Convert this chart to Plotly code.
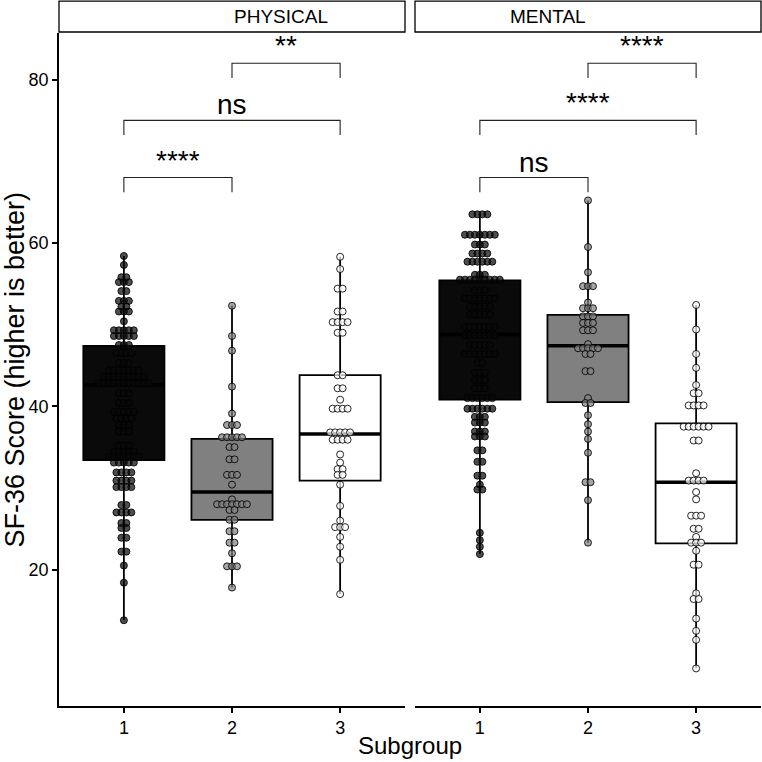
import plotly.graph_objects as go

# dot levels (score) and how many dots sit at each level
phys1_levels = [58.4, 57.3, 55.8, 55.2, 54.1, 52.9, 52.2, 51.6, 50.4, 49.3, 48.6, 47.5, 46.5,
                45.3, 44.4, 43.6, 42.8, 41.6, 40.4, 39.3, 38.5, 37.7, 36.9, 35.2, 34.4, 33.8,
                33.1, 31.9, 30.9, 30.1, 27.9, 27.0, 25.7, 25.1, 23.9, 22.2, 20.5, 18.4, 13.8]
phys1_counts = [1, 1, 2, 3, 2, 3, 2, 3, 1, 5, 5, 3, 4,
                3, 7, 9, 11, 3, 3, 5, 4, 3, 3, 3, 5, 7,
                5, 4, 4, 4, 2, 4, 2, 2, 2, 2, 1, 1, 1]
phys2_levels = [52.3, 48.6, 46.8, 42.4, 39.1, 37.7, 36.2, 35.0, 33.5, 31.6, 30.4, 28.6, 28.0,
                27.3, 26.1, 24.7, 23.3, 22.0, 20.4, 17.8]
phys2_counts = [1, 1, 1, 1, 1, 3, 5, 2, 2, 3, 1, 1, 7, 2, 2, 2, 2, 1, 3, 1]
phys3_levels = [58.3, 56.8, 54.4, 51.6, 50.3, 49.0, 43.8, 42.2, 40.8, 39.7, 36.8, 35.9, 34.1,
                33.1, 32.3, 31.6, 30.4, 27.8, 26.0, 25.2, 24.0, 22.8, 21.2, 17.0]
phys3_counts = [1, 1, 2, 2, 4, 2, 2, 2, 1, 4, 5, 4, 1, 1, 2, 2, 1, 1, 1, 3, 1, 1, 1, 1]

ment1_levels = [63.5, 61.0, 59.8, 58.7, 57.7, 56.1, 55.5, 54.2, 53.2, 52.2, 51.2, 49.7, 48.7,
                47.5, 46.4, 45.3, 44.1, 43.2, 42.2, 41.0, 39.7, 38.7, 38.0, 36.9, 36.3, 34.6,
                33.2, 31.5, 30.4, 29.8, 24.5, 23.6, 22.8, 21.9]
ment1_counts = [4, 7, 3, 4, 6, 3, 9, 3, 7, 5, 5, 7, 7,
                5, 7, 2, 3, 3, 3, 6, 6, 3, 3, 3, 3, 2,
                2, 2, 1, 2, 1, 1, 1, 1]
ment2_levels = [65.2, 59.5, 56.4, 54.7, 52.7, 52.0, 51.0, 50.2, 49.3, 47.6, 47.1, 46.4, 44.3,
                41.0, 40.4, 38.9, 37.8, 36.9, 36.0, 34.3, 30.7, 28.5, 23.3]
ment2_counts = [1, 1, 1, 3, 1, 3, 3, 3, 3, 1, 5, 2, 2, 1, 2, 1, 1, 1, 1, 1, 2, 1, 1]
ment3_levels = [52.4, 49.4, 46.4, 44.7, 42.6, 41.6, 40.1, 37.5, 35.8, 31.8, 30.9, 29.5, 28.6,
                26.6, 25.0, 24.0, 23.3, 22.3, 20.6, 17.1, 16.4, 14.0, 12.5, 11.4, 7.9]
ment3_counts = [1, 1, 1, 1, 1, 2, 4, 6, 2, 1, 4, 1, 1, 3, 2, 1, 3, 1, 2, 1, 2, 1, 1, 1, 1]

# box statistics per subgroup (1, 2, 3)
phys_q1 = [33.4, 26.1, 30.9]
phys_med = [42.6, 29.5, 36.6]
phys_q3 = [47.4, 36.0, 43.8]
phys_min = [13.8, 17.8, 17.0]
phys_max = [58.4, 52.3, 58.3]
ment_q1 = [40.8, 40.5, 23.2]
ment_med = [48.8, 47.4, 30.7]
ment_q3 = [55.4, 51.2, 37.9]
ment_min = [21.9, 23.3, 7.9]
ment_max = [63.5, 65.2, 52.4]

subgroups = [1, 2, 3]
facets = ["PHYSICAL", "MENTAL"]

# significance brackets: (group a, group b, height, label)
phys_pairs = [(2, 3, 82.0, "**"), (1, 3, 75.0, "ns"), (1, 2, 68.0, "****")]
ment_pairs = [(2, 3, 82.0, "****"), (1, 3, 75.0, "****"), (1, 2, 68.0, "ns")]

box_fill = ["#0a0a0a", "#808080", "#ffffff"]
dot_fill = ["rgba(10,10,10,0.72)", "rgba(128,128,128,0.7)", "rgba(255,255,255,0.7)"]
BOXW = 0.75
STEP = 0.046
TIP = 1.8

fig = go.Figure()

panels = [
    ("x", "y", [(phys1_levels, phys1_counts), (phys2_levels, phys2_counts), (phys3_levels, phys3_counts)],
     phys_q1, phys_med, phys_q3, phys_min, phys_max, phys_pairs),
    ("x2", "y2", [(ment1_levels, ment1_counts), (ment2_levels, ment2_counts), (ment3_levels, ment3_counts)],
     ment_q1, ment_med, ment_q3, ment_min, ment_max, ment_pairs),
]

for xa, ya, dots, q1, med, q3, lo, hi, pairs in panels:
    # boxes (plotly puts the box layer under scatter traces)
    for i, g in enumerate(subgroups):
        fig.add_trace(go.Box(
            x=[g], q1=[q1[i]], median=[med[i]], q3=[q3[i]],
            lowerfence=[lo[i]], upperfence=[hi[i]],
            width=BOXW, whiskerwidth=0, boxpoints=False,
            fillcolor=box_fill[i], line=dict(color="black", width=1.8),
            xaxis=xa, yaxis=ya, hoverinfo="skip"))
    # thicker median lines
    for i, g in enumerate(subgroups):
        fig.add_trace(go.Scatter(
            x=[g - BOXW / 2, g + BOXW / 2], y=[med[i], med[i]], mode="lines",
            line=dict(color="black", width=3.6), xaxis=xa, yaxis=ya, hoverinfo="skip"))
    # centred dot stacks
    for i, g in enumerate(subgroups):
        levels, counts = dots[i]
        xs, ys = [], []
        for lev, n in zip(levels, counts):
            for k in range(n):
                xs.append(g + (k - (n - 1) / 2) * STEP)
                ys.append(lev)
        fig.add_trace(go.Scatter(
            x=xs, y=ys, mode="markers",
            marker=dict(size=7, color=dot_fill[i], line=dict(color="rgba(0,0,0,0.85)", width=1)),
            xaxis=xa, yaxis=ya, hoverinfo="skip"))
    # brackets + labels
    for a, b, h, lab in pairs:
        fig.add_trace(go.Scatter(
            x=[a, a, b, b], y=[h - TIP, h, h, h - TIP], mode="lines",
            line=dict(color="#222222", width=1.1), xaxis=xa, yaxis=ya, hoverinfo="skip"))
        fig.add_annotation(x=(a + b) / 2, y=h, xref=xa, yref=ya, text=lab,
                           showarrow=False, yanchor="bottom", yshift=-2 if lab == "ns" else 0,
                           font=dict(size=28, color="black"))

d1 = [0, 346 / 702]
d2 = [356 / 702, 1]

axis_common = dict(showgrid=False, zeroline=False, showline=True, linecolor="black", linewidth=1.6,
                   ticks="outside", ticklen=5, tickwidth=1.5, tickcolor="black",
                   tickfont=dict(size=18, color="black"))

fig.update_layout(
    width=762, height=762,
    margin=dict(l=59, r=1, t=33, b=56),
    plot_bgcolor="white", paper_bgcolor="white",
    showlegend=False,
    font=dict(family="Liberation Sans, Arial, sans-serif", color="black"),
    xaxis=dict(domain=d1, range=[0.4, 3.6], tickvals=subgroups, anchor="y", **axis_common),
    xaxis2=dict(domain=d2, range=[0.4, 3.6], tickvals=subgroups, anchor="y2", **axis_common),
    yaxis=dict(range=[3.3, 85.7], tickvals=[20, 40, 60, 80], anchor="x", **axis_common),
    yaxis2=dict(range=[3.3, 85.7], matches="y", anchor="x2", showgrid=False, zeroline=False,
                showline=False, showticklabels=False, ticks=""),
)

# facet strips
for dom, name in zip([d1, d2], facets):
    fig.add_shape(type="rect", xref="paper", yref="paper", x0=dom[0], x1=dom[1],
                  y0=1.0015, y1=1.0475, line=dict(color="black", width=1.3), fillcolor="white")
    fig.add_annotation(x=(dom[0] + dom[1]) / 2, y=1.0245, xref="paper", yref="paper",
                       text=name, showarrow=False, yanchor="middle",
                       font=dict(size=19, color="black"))

fig.add_annotation(x=-0.064, y=0.5, xref="paper", yref="paper", text="SF-36 Score (higher is better)",
                   textangle=-90, showarrow=False, xanchor="center", yanchor="middle",
                   font=dict(size=27, color="black"))
fig.add_annotation(x=0.5, y=-0.058, xref="paper", yref="paper", text="Subgroup",
                   showarrow=False, xanchor="center", yanchor="middle", font=dict(size=24, color="black"))

fig.write_html("out.html", config={"displayModeBar": False},
               post_script="document.body.style.margin='0';")
